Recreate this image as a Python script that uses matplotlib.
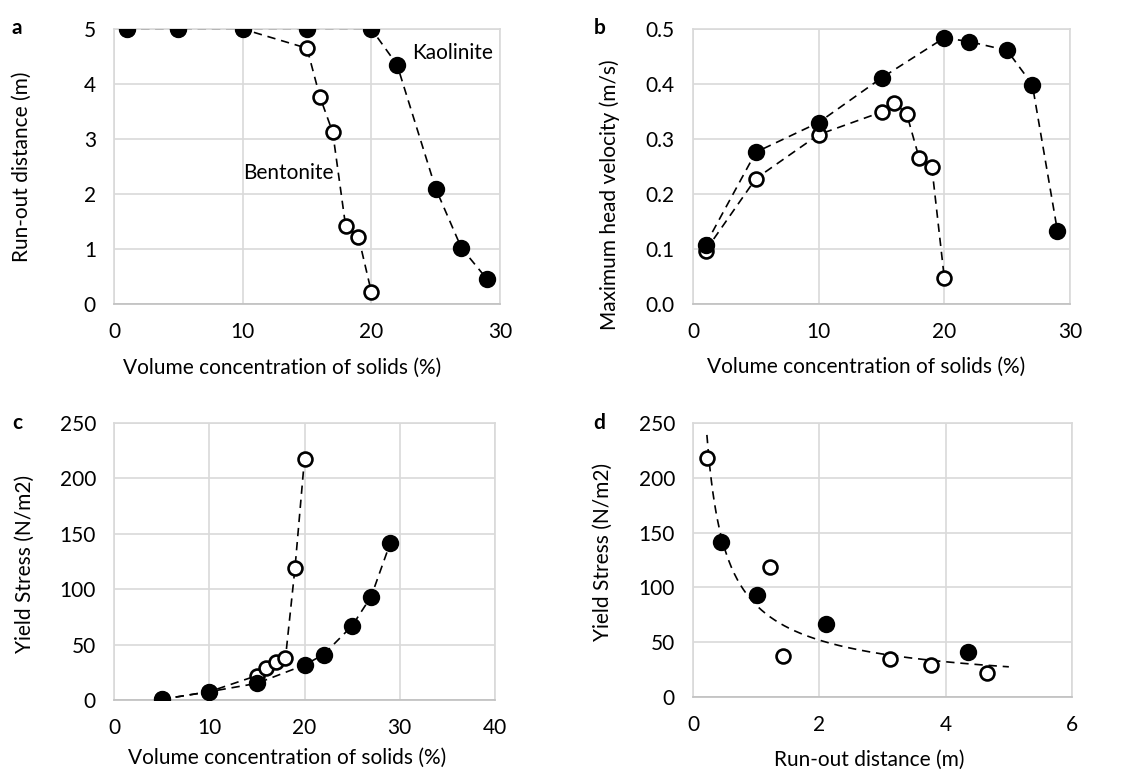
import numpy as np
import matplotlib
matplotlib.use("Agg")
import matplotlib.pyplot as plt

plt.rcParams['font.family'] = ['Lato', 'DejaVu Sans']

# volume concentration (%)
kao_conc = [1, 5, 10, 15, 20, 22, 25, 27, 29]
ben_conc = [1, 5, 10, 15, 16, 17, 18, 19, 20]

# run-out distance (m)
kao_runout = [5, 5, 5, 5, 5, 4.35, 2.1, 1.02, 0.45]
ben_runout = [5, 5, 5, 4.65, 3.77, 3.12, 1.42, 1.22, 0.22]

# maximum head velocity (m/s)
kao_vel = [0.108, 0.276, 0.330, 0.411, 0.484, 0.477, 0.461, 0.399, 0.133]
ben_vel = [0.097, 0.228, 0.308, 0.349, 0.366, 0.346, 0.265, 0.250, 0.047]

# yield stress (N/m2)
kao_ys_conc = [5, 10, 15, 20, 22, 25, 27, 29]
kao_ys = [0.6, 7.5, 15, 31.6, 41, 67, 93.4, 141.6]
ben_ys_conc = [5, 10, 15, 16, 17, 18, 19, 20]
ben_ys = [0.6, 7.5, 22, 29, 34.6, 37.6, 119, 217.8]

# panel d: yield stress vs run-out for the non-zero runout cases
kao_d_runout = [0.45, 1.02, 2.1, 4.35]
kao_d_ys = [141.6, 93.4, 67, 41]
ben_d_runout = [0.22, 1.22, 1.42, 3.12, 3.77, 4.65]
ben_d_ys = [217.8, 119, 37.6, 34.6, 29, 22]

W, H = 1132, 772
fig = plt.figure(figsize=(W / 100, H / 100), dpi=100)

def px_axes(l, t, r, b):
    return fig.add_axes([l / W, 1 - b / H, (r - l) / W, (b - t) / H])

ax_a = px_axes(114, 29, 500, 304)
ax_b = px_axes(693, 29, 1070, 304)
ax_c = px_axes(114, 423, 495, 700)
ax_d = px_axes(693, 423, 1072, 697)

dash = dict(color='black', lw=1.2, ls=(0, (5, 3.5)), zorder=2)
filled = dict(ls='none', marker='o', ms=11, mfc='black', mec='black', mew=1.5, zorder=4)
hollow = dict(ls='none', marker='o', ms=10, mfc='white', mec='black', mew=1.9, zorder=3)
FS = 15

def style(ax, xlim, ylim, xt, yt, yfmt, xlabel, ylabel, xl_pos, yl_pos, letter, lpos):
    ax.set_xlim(*xlim)
    ax.set_ylim(*ylim)
    ax.set_xticks(xt)
    ax.set_yticks(yt)
    ax.set_yticklabels([yfmt.format(v) for v in yt])
    ax.grid(True, color='#d9d9d9', lw=1.2)
    ax.set_axisbelow(True)
    for s in ax.spines.values():
        s.set_color('#d9d9d9')
        s.set_linewidth(1.2)
    ax.spines['bottom'].set_color('#bfbfbf')
    ax.tick_params(length=0, labelsize=FS, pad=13, colors='black')
    ax.set_xlabel(xlabel, fontsize=FS, va='center')
    ax.set_ylabel(ylabel, fontsize=FS, va='center')
    ax.xaxis.set_label_coords(*xl_pos)
    ax.yaxis.set_label_coords(*yl_pos)
    fig.text(lpos[0] / W, 1 - lpos[1] / H, letter, fontsize=FS, fontweight='bold',
             ha='center', va='center')

# a
ax_a.plot(ben_conc, ben_runout, **dash)
ax_a.plot(kao_conc, kao_runout, **dash)
ax_a.plot(ben_conc, ben_runout, **hollow)
ax_a.plot(kao_conc, kao_runout, **filled)
ax_a.text(23.2, 4.56, 'Kaolinite', fontsize=FS, va='center', ha='left')
ax_a.text(10.0, 2.38, 'Bentonite', fontsize=FS, va='center', ha='left')
style(ax_a, (0, 30), (0, 5), [0, 10, 20, 30], [0, 1, 2, 3, 4, 5], '{:g}',
      'Volume concentration of solids (%)', 'Run-out distance (m)',
      (0.435, -0.233), (-0.238, 0.5), 'a', (17, 28))

# b
ax_b.plot(ben_conc, ben_vel, **dash)
ax_b.plot(kao_conc, kao_vel, **dash)
ax_b.plot(ben_conc, ben_vel, **hollow)
ax_b.plot(kao_conc, kao_vel, **filled)
style(ax_b, (0, 30), (0, 0.5), [0, 10, 20, 30], [0, 0.1, 0.2, 0.3, 0.4, 0.5], '{:.1f}',
      'Volume concentration of solids (%)', 'Maximum head velocity (m/s)',
      (0.46, -0.229), (-0.22, 0.396), 'b', (600, 28))

# c
ax_c.plot(ben_ys_conc, ben_ys, **dash)
ax_c.plot(kao_ys_conc, kao_ys, **dash)
ax_c.plot(ben_ys_conc, ben_ys, **hollow)
ax_c.plot(kao_ys_conc, kao_ys, **filled)
style(ax_c, (0, 40), (0, 250), [0, 10, 20, 30, 40], [0, 50, 100, 150, 200, 250], '{:g}',
      'Volume concentration of solids (%)', 'Yield Stress (N/m2)',
      (0.454, -0.209), (-0.234, 0.49), 'c', (17, 423))

# d - power trendline through all points
all_x = np.array(kao_d_runout + ben_d_runout)
all_y = np.array(kao_d_ys + ben_d_ys)
b, log_a = np.polyfit(np.log(all_x), np.log(all_y), 1)
xs = np.linspace(0.22, 5, 200)
ax_d.plot(xs, np.exp(log_a) * xs ** b, **dash)
ax_d.plot(ben_d_runout, ben_d_ys, **hollow)
ax_d.plot(kao_d_runout, kao_d_ys, **filled)
style(ax_d, (0, 6), (0, 250), [0, 2, 4, 6], [0, 50, 100, 150, 200, 250], '{:g}',
      'Run-out distance (m)', 'Yield Stress (N/m2)',
      (0.464, -0.23), (-0.237, 0.53), 'd', (599, 423))

fig.savefig('out.png', dpi=100, facecolor='white')
